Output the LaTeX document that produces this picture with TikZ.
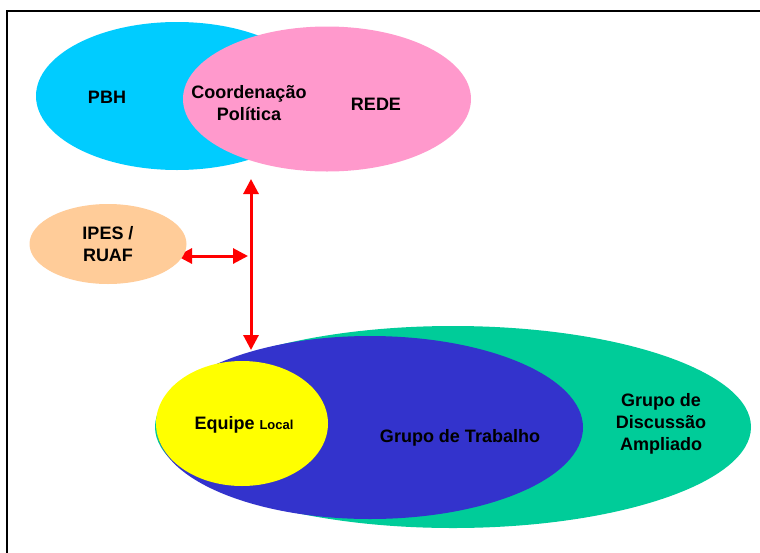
\documentclass[tikz,border=0pt]{standalone}
\usepackage{fontspec}
\setmainfont{Liberation Sans}
\usetikzlibrary{shapes.geometric,arrows.meta}
\definecolor{cCyan}{HTML}{00CCFF}
\definecolor{cPink}{HTML}{FF99CC}
\definecolor{cPeach}{HTML}{FFCC99}
\definecolor{cGreen}{HTML}{00CC99}
\definecolor{cBlue}{HTML}{3333CC}
\definecolor{cYellow}{HTML}{FFFF00}
\definecolor{cRed}{HTML}{FF0000}
\tikzset{
  blob/.style={ellipse, draw=none, inner sep=0pt},
  lbl/.style={font=\bfseries\fontsize{18}{22}\selectfont, align=center, inner sep=0pt, text=black},
  redarrow/.style={draw=cRed, line width=3pt, {Triangle[width=15pt,length=15pt]}-{Triangle[width=15pt,length=15pt]}},
}
\begin{document}
\begin{tikzpicture}[x=1pt,y=-1pt]
\useasboundingbox (0,0) rectangle (760,552);
\fill[white] (0,0) rectangle (760,552);
\draw[line width=2pt] (7,553) -- (7,11) -- (761,11);
% top ellipses
\node[blob, fill=cCyan, minimum width=282pt, minimum height=148pt] (pbh) at (177,96) {};
\node[blob, fill=cPink, minimum width=288pt, minimum height=145pt] (rede) at (327,99) {};
\node[lbl] (tpbh) at (107,97) {PBH};
\node[lbl] (tcoord) at (249,103) {Coordenação\\Política};
\node[lbl] (trede) at (376,104) {REDE};
% bottom ellipses
\node[blob, fill=cGreen, minimum width=596pt, minimum height=202pt] (gda) at (453,427) {};
\node[blob, fill=cBlue, minimum width=426pt, minimum height=183pt] (gt) at (370,427.5) {};
\node[blob, fill=cYellow, minimum width=172pt, minimum height=125pt] (el) at (242,423.5) {};
\node[lbl] (tel) at (244,425) {Equipe {\fontsize{13}{15}\selectfont Local}};
\node[lbl] (tgt) at (460,438) {Grupo de Trabalho};
\node[lbl] (tgda) at (661,424) {Grupo de\\Discussão\\Ampliado};
% arrows
\coordinate (vtop) at (251,179);
\coordinate (vbot) at (251,350);
\coordinate (hleft) at (177,256);
\coordinate (hright) at (248,256);
\draw[redarrow] (vtop) -- (vbot);
\draw[redarrow] (hleft) -- (hright);
% IPES
\node[blob, fill=cPeach, minimum width=157pt, minimum height=80pt] (ipes) at (108,244) {};
\node[lbl] (tipes) at (108,244) {IPES /\\RUAF};
\end{tikzpicture}
\end{document}
